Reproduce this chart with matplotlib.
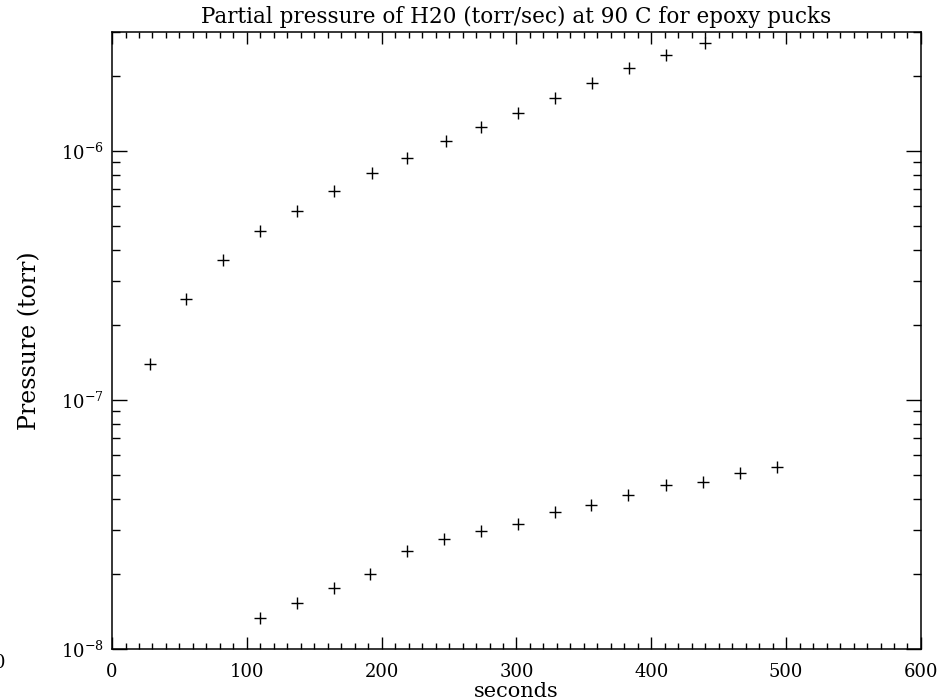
import matplotlib
matplotlib.use("Agg")
import matplotlib.pyplot as plt
from matplotlib.ticker import MultipleLocator, LogLocator, NullFormatter

# upper run (seconds, torr)
t_upper = [28, 55, 82.5, 110, 137.5, 165, 192.5, 219, 247.5, 274, 301, 328.5, 356, 383.5, 411, 440]
p_upper = [1.40e-7, 2.55e-7, 3.63e-7, 4.76e-7, 5.74e-7, 6.89e-7, 8.16e-7, 9.37e-7,
           1.094e-6, 1.241e-6, 1.422e-6, 1.625e-6, 1.878e-6, 2.16e-6, 2.43e-6, 2.72e-6]

# lower run
t_lower = [109.5, 137.5, 164.5, 191, 219, 246, 273.5, 301, 328.5, 355.5, 383, 411, 438, 466, 493]
p_lower = [1.334e-8, 1.535e-8, 1.763e-8, 1.995e-8, 2.476e-8, 2.775e-8, 2.986e-8, 3.17e-8,
           3.56e-8, 3.78e-8, 4.16e-8, 4.56e-8, 4.68e-8, 5.07e-8, 5.36e-8]

plt.rcParams['font.family'] = ['DejaVu Serif']
plt.rcParams['mathtext.fontset'] = 'dejavuserif'

fig = plt.figure(figsize=(9.39, 7.0), dpi=100)
ax = fig.add_axes([0.1193, 0.0729, 0.8615, 0.8814])

ax.plot(t_upper, p_upper, '+', color='black', markersize=8, mew=1.0)
ax.plot(t_lower, p_lower, '+', color='black', markersize=8, mew=1.0)

ax.set_yscale('log')
ax.set_xlim(0, 600)
ax.set_ylim(1e-8, 3e-6)

ax.xaxis.set_major_locator(MultipleLocator(100))
ax.xaxis.set_minor_locator(MultipleLocator(10))
ax.yaxis.set_major_locator(LogLocator(base=10))
ax.yaxis.set_minor_locator(LogLocator(base=10, subs=range(2, 10)))
ax.yaxis.set_minor_formatter(NullFormatter())

ax.tick_params(axis='both', which='both', direction='in', top=True, right=True,
               colors='black', labelsize=13, width=1.0)
ax.tick_params(axis='x', which='major', length=8.5, pad=10)
ax.tick_params(axis='x', which='minor', length=4.5)
ax.tick_params(axis='y', which='major', length=11, pad=6)
ax.tick_params(axis='y', which='minor', length=6)

for s in ax.spines.values():
    s.set_linewidth(1.1)

# title sits just above the frame
ax.text(0.5, 1.0146, 'Partial pressure of H20 (torr/sec) at 90 C for epoxy pucks',
        transform=ax.transAxes, ha='center', va='baseline', fontsize=15.5)

ax.set_xlabel('seconds', fontsize=15, va='center')
ax.xaxis.set_label_coords(0.5, -0.0697)
ax.set_ylabel('Pressure (torr)', fontsize=17, va='center')
ax.yaxis.set_label_coords(-0.1014, 0.5)

# stray clipped character at the bottom-left edge
fig.text(0.0, 0.053, '0', fontsize=13, ha='center', va='center')

fig.savefig('out.png', dpi=100, facecolor='white')
